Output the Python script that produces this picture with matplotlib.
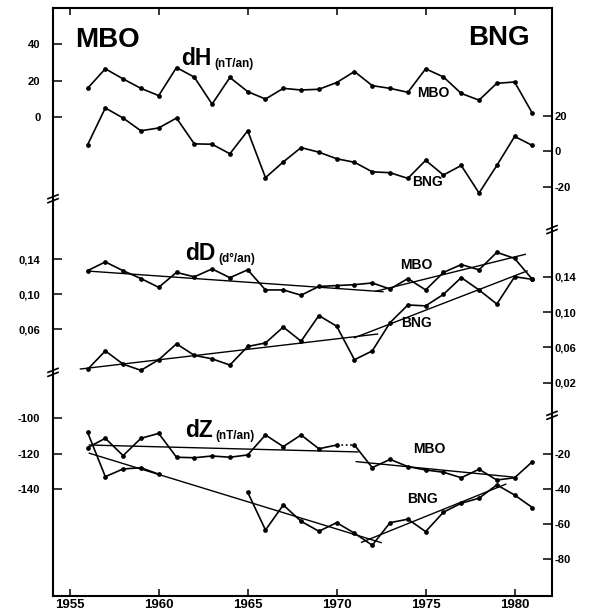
#!/usr/bin/env python3
import matplotlib
matplotlib.use("Agg")
import matplotlib.pyplot as plt
import numpy as np

plt.rcParams["font.family"] = ["Liberation Sans", "DejaVu Sans"]

# annual rates, 1956-1981
YEARS = np.arange(1956, 1982)

DH_MBO = [15.7, 26.5, 20.9, 15.7, 11.7, 27.2, 21.9, 7.0, 21.7, 13.9, 9.8, 15.7, 14.8,
          15.2, 18.9, 25.0, 17.2, 15.7, 13.5, 26.5, 22.0, 12.9, 9.2, 18.5, 19.2, 1.9]
DH_BNG = [3.7, 24.6, 18.9, 11.7, 13.3, 18.9, 4.3, 4.1, -1.3, 11.7, -14.8, -5.9, 2.2,
          -0.4, -4.1, -6.1, -11.5, -12.0, -15.2, -5.0, -13.3, -7.9, -23.5, -7.9, 8.5, 3.4]

DD_MBO = [0.127, 0.137, 0.127, 0.118, 0.108, 0.125, 0.120, 0.129, 0.119, 0.128, 0.105,
          0.105, 0.099, 0.109, 0.110, 0.111, 0.113, 0.106, 0.118, 0.105, 0.125, 0.134,
          0.128, 0.148, 0.141, 0.117]
DD_BNG = [0.035, 0.056, 0.041, 0.034, 0.046, 0.064, 0.051, 0.047, 0.040, 0.061, 0.065,
          0.083, 0.067, 0.096, 0.084, 0.046, 0.056, 0.088, 0.108, 0.107, 0.120, 0.139,
          0.125, 0.109, 0.140, 0.137]

DZ_MBO = [-116.6, -111.3, -121.1, -111.3, -108.5, -122.0, -122.3, -121.3, -122.0, -120.7,
          -109.4, -116.0, -109.4, -117.2, -115.1, -115.1, -127.9, -123.2, -127.3, -129.2,
          -130.5, -133.6, -128.8, -134.9, -133.6, -124.5]
DZ_BNG = [-7.4, -32.8, -28.4, -27.7, -31.4, np.nan, np.nan, np.nan, np.nan, -41.7, -63.3,
          -49.0, -58.3, -64.0, -59.1, -65.1, -72.0, -59.1, -57.1, -64.2, -53.1, -48.0,
          -45.1, -37.5, -43.3, -50.5]

# fitted trends: (year start, year end, value start, value end)
TREND_DD_MBO = [(1956.0, 1972.6, 0.1266, 0.1030), (1972.2, 1980.6, 0.1035, 0.1457)]
TREND_DD_BNG = [(1955.6, 1972.3, 0.0355, 0.0751), (1971.0, 1980.7, 0.0709, 0.1465)]
TREND_DZ_MBO = [(1956.1, 1971.2, -115.1, -119.0), (1971.1, 1979.9, -124.5, -133.2)]
TREND_DZ_BNG = [(1956.1, 1972.5, -19.4, -70.5), (1971.4, 1979.5, -70.3, -37.1)]

DH_LEFT_TICKS = [40, 20, 0]
DH_LEFT_LABELS = ["40", "20", "0"]
DH_RIGHT_TICKS = [20, 0, -20]
DH_RIGHT_LABELS = ["20", "0", "-20"]
DD_LEFT_TICKS = [0.14, 0.10, 0.06]
DD_LEFT_LABELS = ["0,14", "0,10", "0,06"]
DD_RIGHT_TICKS = [0.14, 0.10, 0.06, 0.02]
DD_RIGHT_LABELS = ["0,14", "0,10", "0,06", "0,02"]
DZ_LEFT_TICKS = [-100, -120, -140]
DZ_LEFT_LABELS = ["-100", "-120", "-140"]
DZ_RIGHT_TICKS = [-20, -40, -60, -80]
DZ_RIGHT_LABELS = ["-20", "-40", "-60", "-80"]

YEAR_TICKS = [1955, 1960, 1965, 1970, 1975, 1980]

FRAME = [53 / 595, 19 / 615, 499 / 595, 588.5 / 615]
X_LIM = (1954.06, 1982.1)


def make_panel(fig, ylim_l, ylim_r, lticks, llabels, rticks, rlabels):
    axl = fig.add_axes(FRAME, facecolor="none")
    axl.set_xlim(*X_LIM)
    axl.set_ylim(*ylim_l)
    axl.set_xticks([])
    axl.set_yticks(lticks, llabels, fontweight="bold")
    axl.tick_params(axis="y", direction="in", length=6.5, width=1.1, pad=9, labelsize=8)
    axr = axl.twinx()
    axr.set_ylim(*ylim_r)
    axr.set_yticks(rticks, rlabels, fontweight="bold")
    axr.tick_params(axis="y", direction="in", length=6.5, width=1.1, pad=2, labelsize=8)
    for ax in (axl, axr):
        for sp in ax.spines.values():
            sp.set_visible(False)
    return axl, axr


def series(ax, y):
    ax.plot(YEARS, y, color="black", lw=1.2, marker="o", ms=2.4)


def trends(ax, segs):
    for x0, x1, y0, y1 in segs:
        ax.plot([x0, x1], [y0, y1], color="black", lw=1.0)


def draw_break(ax, xf, yf):
    half_w = 5 / 499
    slant = 2 / 589.5
    gap = 2 / 589.5
    for off in (-gap, gap):
        ax.plot([xf - half_w, xf + half_w], [yf + off - slant, yf + off + slant],
                color="black", lw=1.2, transform=ax.transAxes, clip_on=False)


def title(ax, x, y, big, small):
    t = ax.text(x, y, big, fontsize=16.5, fontweight="bold", va="baseline")
    ax.annotate(small, xy=(1, 0), xycoords=t, xytext=(2, 0), textcoords="offset points",
                fontsize=8.5, fontweight="bold", va="bottom")


fig = plt.figure(figsize=(5.95, 6.15), dpi=100)

frame = fig.add_axes(FRAME)
frame.set_xlim(*X_LIM)
frame.set_ylim(0, 1)
frame.set_yticks([])
frame.set_xticks(YEAR_TICKS, [str(y) for y in YEAR_TICKS], fontweight="bold")
frame.tick_params(axis="x", direction="in", top=True, length=5, width=1.1, pad=2.5,
                  labelsize=9.5)
for sp in frame.spines.values():
    sp.set_linewidth(1.5)

# dH
axl, axr = make_panel(fig, (-264.5, 60.33), (-251.3, 81.4),
                      DH_LEFT_TICKS, DH_LEFT_LABELS, DH_RIGHT_TICKS, DH_RIGHT_LABELS)
series(axl, DH_MBO)
series(axr, DH_BNG)

# dD
axl, axr = make_panel(fig, (-0.2448, 0.4278), (-0.2215, 0.4448),
                      DD_LEFT_TICKS, DD_LEFT_LABELS, DD_RIGHT_TICKS, DD_RIGHT_LABELS)
series(axl, DD_MBO)
series(axr, DD_BNG)
trends(axl, TREND_DD_MBO)
trends(axr, TREND_DD_BNG)

# dZ
axl, axr = make_panel(fig, (-200.5, 132.4), (-101.0, 235.3),
                      DZ_LEFT_TICKS, DZ_LEFT_LABELS, DZ_RIGHT_TICKS, DZ_RIGHT_LABELS)
axl.plot(YEARS[:15], DZ_MBO[:15], color="black", lw=1.2, marker="o", ms=2.4)
axl.plot(YEARS[15:], DZ_MBO[15:], color="black", lw=1.2, marker="o", ms=2.4)
axl.plot(YEARS[14:16], DZ_MBO[14:16], color="black", lw=1.2, ls=":")
series(axr, DZ_BNG)
trends(axl, TREND_DZ_MBO)
trends(axr, TREND_DZ_BNG)

# axis breaks
for yf in (0.6751, 0.380):
    draw_break(frame, 0.0, yf)
for yf in (0.6226, 0.307):
    draw_break(frame, 1.0, yf)

# labels
frame.text(1955.3, 0.933, "MBO", fontsize=20, fontweight="bold", va="baseline")
frame.text(1980.86, 0.936, "BNG", fontsize=20, fontweight="bold", va="baseline", ha="right")
title(frame, 1961.25, 0.9025, "dH", "(nT/an)")
title(frame, 1961.48, 0.5717, "dD", "(d°/an)")
title(frame, 1961.48, 0.2697, "dZ", "(nT/an)")

station_labels = [
    (1975.41, 0.855, "MBO"), (1975.1, 0.704, "BNG"),
    (1974.45, 0.5632, "MBO"), (1974.5, 0.464, "BNG"),
    (1975.2, 0.2502, "MBO"), (1974.8, 0.1645, "BNG"),
]
for x, y, s in station_labels:
    frame.text(x, y, s, fontsize=10, fontweight="bold", ha="center", va="center")

fig.savefig("out.png", dpi=100, facecolor="white")
